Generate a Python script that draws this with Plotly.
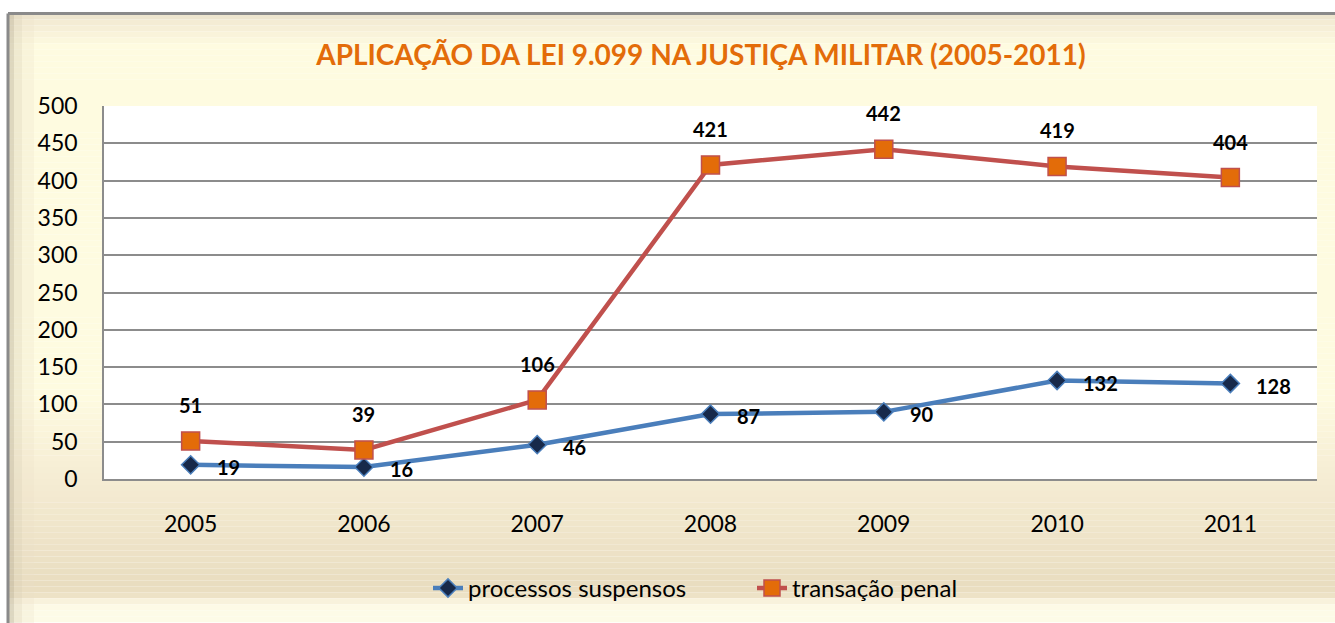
import plotly.graph_objects as go

years = ["2005", "2006", "2007", "2008", "2009", "2010", "2011"]
processos_suspensos = [19, 16, 46, 87, 90, 132, 128]
transacao_penal = [51, 39, 106, 421, 442, 419, 404]
y_ticks = [0, 50, 100, 150, 200, 250, 300, 350, 400, 450, 500]

FONT = "Lato"
W, H = 1335, 623
L, R, T, B = 104, 18, 106, 142
PW, PH = W - L - R, H - T - B


def px_x(px):
    return (px - L) / PW


def px_y(py):
    return (H - B - py) / PH


fig = go.Figure()

fig.add_trace(go.Scatter(
    x=years, y=processos_suspensos, name="processos suspensos",
    mode="lines+markers",
    line=dict(color="#4A7EBB", width=4.5),
    marker=dict(symbol="diamond", size=14, color="#17294A",
                line=dict(color="#4A7EBB", width=1.5)),
))
fig.add_trace(go.Scatter(
    x=years, y=transacao_penal, name="transação penal",
    mode="lines+markers",
    line=dict(color="#C0504D", width=4.5),
    marker=dict(symbol="square", size=18, color="#E36C09",
                line=dict(color="#C0504D", width=1.5)),
))

annotations = []
for i, yv in enumerate(transacao_penal):
    annotations.append(dict(x=i, y=yv, xref="x", yref="y", text=str(yv),
                            showarrow=False, yshift=36,
                            font=dict(family=FONT, size=20, color="black", weight="bold")))
for i, yv in enumerate(processos_suspensos):
    annotations.append(dict(x=i, y=yv, xref="x", yref="y", text=str(yv),
                            showarrow=False, xanchor="left", xshift=24, yshift=-2,
                            font=dict(family=FONT, size=20, color="black", weight="bold")))


def bg_color(py):
    stops = [(13, (236, 228, 205)), (22, (244, 236, 212)), (45, (254, 251, 224)),
             (400, (254, 251, 224)), (480, (246, 237, 212)), (590, (233, 221, 192)),
             (600, (238, 228, 200)), (606, (253, 250, 230)), (623, (254, 252, 232))]
    for (a, ca), (b, cb) in zip(stops[:-1], stops[1:]):
        if a <= py <= b:
            u = (py - a) / (b - a) if b > a else 0
            return tuple(int(ca[k] + (cb[k] - ca[k]) * u) for k in range(3))
    return stops[-1][1]


shapes = []
step = 6
py = 13
while py < H:
    c = bg_color(py + step / 2)
    shapes.append(dict(type="rect", xref="paper", yref="paper",
                       x0=px_x(8), x1=px_x(W + 5), y0=px_y(py + step), y1=px_y(py),
                       fillcolor="rgb(%d,%d,%d)" % c, line=dict(width=0), layer="below"))
    py += step

# left shading strip
for xa, xb, col in [(9, 14, "rgba(190,180,155,0.5)"),
                    (14, 22, "rgba(220,210,185,0.4)"),
                    (22, 34, "rgba(235,225,200,0.25)")]:
    shapes.append(dict(type="rect", xref="paper", yref="paper",
                       x0=px_x(xa), x1=px_x(xb), y0=px_y(H + 5), y1=px_y(14),
                       fillcolor=col, line=dict(width=0), layer="below"))

# white plot area
shapes.append(dict(type="rect", xref="paper", yref="paper", x0=0, x1=1, y0=0, y1=1,
                   fillcolor="white", line=dict(width=0), layer="below"))

# frame lines (top and left)
shapes.append(dict(type="line", xref="paper", yref="paper",
                   x0=px_x(8), x1=px_x(W + 5), y0=px_y(13), y1=px_y(13),
                   line=dict(color="#8A8A8A", width=3), layer="below"))
shapes.append(dict(type="line", xref="paper", yref="paper",
                   x0=px_x(8), x1=px_x(8), y0=px_y(13), y1=px_y(H + 5),
                   line=dict(color="#8A8A8A", width=3), layer="below"))

fig.update_layout(
    width=W, height=H,
    margin=dict(l=L, r=R, t=T, b=B),
    paper_bgcolor="white",
    plot_bgcolor="white",
    font=dict(family=FONT, color="black"),
    title=dict(text="APLICAÇÃO DA LEI 9.099 NA JUSTIÇA MILITAR (2005-2011)",
               x=701 / W, xanchor="center", y=1 - 55 / H, yanchor="middle",
               font=dict(family=FONT, size=28, color="#E36C09", weight="bold")),
    xaxis=dict(type="category", range=[-0.5, 6.5], showgrid=False,
               showline=True, linecolor="#8C8C8C", linewidth=1.5,
               ticks="", tickfont=dict(size=23), ticklabelstandoff=24),
    yaxis=dict(range=[0, 500], tickvals=y_ticks, showgrid=True,
               gridcolor="#8C8C8C", gridwidth=1.5, showline=True,
               linecolor="#8C8C8C", linewidth=1.5, zeroline=False,
               ticks="", tickfont=dict(size=23), ticklabelstandoff=20),
    legend=dict(orientation="h", x=px_x(752), xanchor="center", y=px_y(591), yanchor="middle",
                bgcolor="rgba(0,0,0,0)", font=dict(size=24), traceorder="normal",
                entrywidth=279, entrywidthmode="pixels"),
    showlegend=True,
    annotations=annotations,
    shapes=shapes,
)

fig.write_html("out.html", config={"displayModeBar": False},
               post_script="document.body.style.margin='0';document.body.style.overflow='hidden';")
